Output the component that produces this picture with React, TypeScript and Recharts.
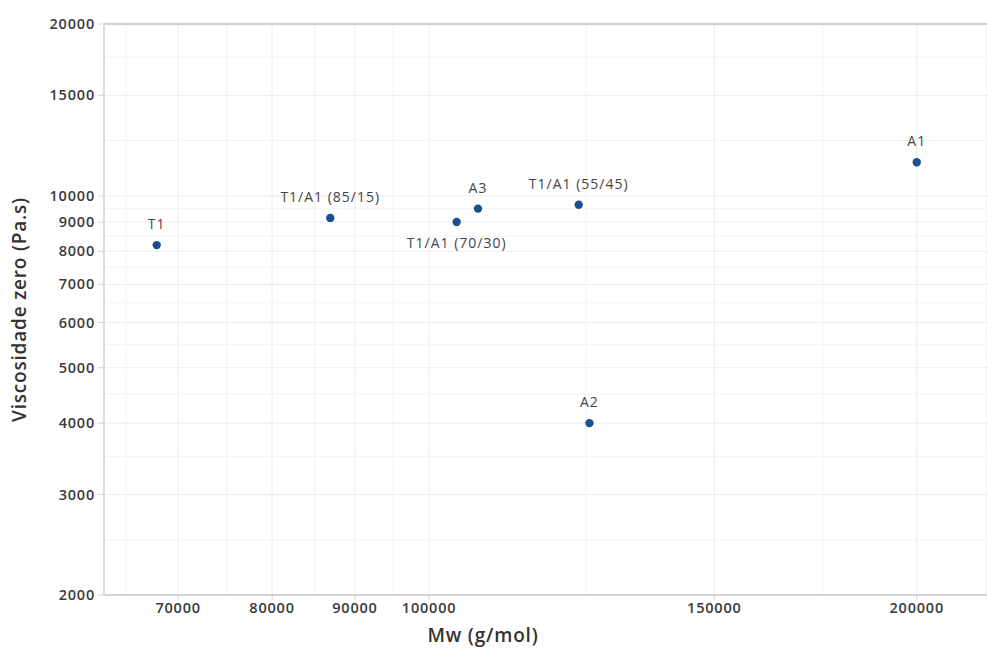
import React from "react";
import {
  ScatterChart,
  Scatter,
  XAxis,
  YAxis,
  CartesianGrid,
  ReferenceLine,
  Label,
} from "recharts";

// Zero-shear viscosity vs. weight-average molar mass, log-log
const SAMPLES = ["T1", "T1/A1 (85/15)", "T1/A1 (70/30)", "A3", "T1/A1 (55/45)", "A2", "A1"];
const MW = [67900, 86900, 104000, 107200, 123700, 125600, 200000];
const ETA0 = [8200, 9150, 9000, 9500, 9650, 4000, 11450];

const X_TICKS = [70000, 80000, 90000, 100000, 150000, 200000];
const Y_TICKS = [2000, 3000, 4000, 5000, 6000, 7000, 8000, 9000, 10000, 15000, 20000];
const X_MINOR = [65000, 75000, 85000, 95000, 125000, 175000];
const Y_MINOR = [2500, 3500, 4500, 5500, 6500, 7500, 8500, 9500, 12500, 17500];

// labels that sit under their point instead of above it
const LABEL_BELOW = new Set(["T1/A1 (70/30)"]);

const data = SAMPLES.map((name, i) => ({ name, mw: MW[i], eta: ETA0[i] }));

const FONT = "'Open Sans', 'Noto Sans', sans-serif";
const POINT = "#1b4f8f";

const tickStyle = {
  fill: "#3a3a3a",
  fontSize: 14.5,
  fontFamily: FONT,
  fontWeight: 600,
  letterSpacing: 0.8,
};

const Dot = (props: any) => {
  const { cx, cy, payload } = props;
  const below = LABEL_BELOW.has(payload.name);
  return (
    <g>
      <circle cx={cx} cy={cy} r={4.2} fill={POINT} />
      <text
        x={cx}
        y={below ? cy + 26 : cy - 16}
        textAnchor="middle"
        fontFamily={FONT}
        fontSize={14}
        letterSpacing={1}
        fill="#444"
      >
        {payload.name}
      </text>
    </g>
  );
};

export default function App() {
  return (
    <div style={{ width: 987, height: 651, background: "#fff" }}>
      <style>{`body{margin:0}`}</style>
      <ScatterChart width={987} height={651} margin={{ top: 24, right: 0, bottom: 0, left: 0 }}>
        <CartesianGrid stroke="#ebebeb" strokeWidth={1} />
        {Y_MINOR.map((v) => (
          <ReferenceLine key={"y" + v} y={v} stroke="#f3f3f3" />
        ))}
        {X_MINOR.map((v) => (
          <ReferenceLine key={"x" + v} x={v} stroke="#f3f3f3" />
        ))}
        <ReferenceLine y={20000} stroke="#cfcfcf" strokeWidth={2} />
        <XAxis
          type="number"
          dataKey="mw"
          scale="log"
          domain={[63000, 221000]}
          allowDataOverflow
          ticks={X_TICKS}
          height={56}
          tickSize={5}
          tickMargin={3}
          axisLine={{ stroke: "#d4d4d4", strokeWidth: 2 }}
          tickLine={{ stroke: "#d4d4d4" }}
          tick={tickStyle}
        >
          <Label
            content={({ viewBox }: any) => (
              <text
                x={viewBox.x + 379}
                y={viewBox.y + 47}
                textAnchor="middle"
                fontFamily={FONT}
                fontSize={19}
                fontWeight={600}
                letterSpacing={0.8}
                fill="#333"
              >
                Mw (g/mol)
              </text>
            )}
          />
        </XAxis>
        <YAxis
          type="number"
          dataKey="eta"
          scale="log"
          domain={[2000, 20000]}
          allowDataOverflow
          ticks={Y_TICKS}
          width={104}
          tickSize={6}
          tickMargin={3}
          axisLine={{ stroke: "#dcdcdc", strokeWidth: 2 }}
          tickLine={{ stroke: "#d4d4d4" }}
          tick={tickStyle}
        >
          <Label
            content={({ viewBox }: any) => {
              const cx = 19;
              const cy = viewBox.y + viewBox.height / 2;
              return (
                <text
                  x={cx}
                  y={cy}
                  transform={`rotate(-90 ${cx} ${cy})`}
                  textAnchor="middle"
                  dominantBaseline="central"
                  fontFamily={FONT}
                  fontSize={19}
                  fontWeight={600}
                  letterSpacing={0.8}
                  fill="#333"
                >
                  Viscosidade zero (Pa.s)
                </text>
              );
            }}
          />
        </YAxis>
        <Scatter data={data} shape={<Dot />} isAnimationActive={false} />
      </ScatterChart>
    </div>
  );
}
